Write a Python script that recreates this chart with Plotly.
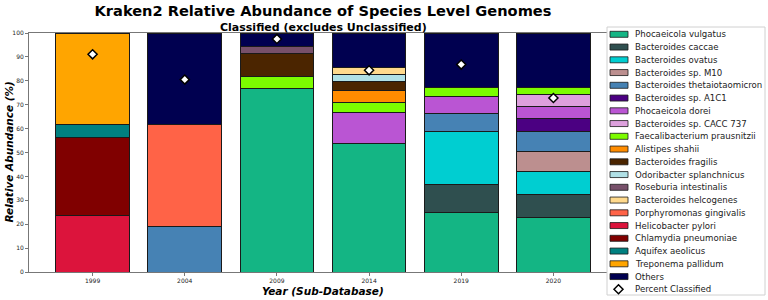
import plotly.graph_objects as go

years = ["1999", "2004", "2009", "2014", "2019", "2020"]

species = [
    "Phocaeicola vulgatus", "Bacteroides caccae", "Bacteroides ovatus", "Bacteroides sp. M10",
    "Bacteroides thetaiotaomicron", "Bacteroides sp. A1C1", "Phocaeicola dorei",
    "Bacteroides sp. CACC 737", "Faecalibacterium prausnitzii", "Alistipes shahii",
    "Bacteroides fragilis", "Odoribacter splanchnicus", "Roseburia intestinalis",
    "Bacteroides helcogenes", "Porphyromonas gingivalis", "Helicobacter pylori",
    "Chlamydia pneumoniae", "Aquifex aeolicus", "Treponema pallidum", "Others",
]

colors = [
    "#14B584", "#2F4F4F", "#00CED1", "#BC8F8F", "#4682B4", "#4B0082", "#BA55D3",
    "#DDA0DD", "#7CFC00", "#FF8C00", "#4B2500", "#B0E0E6", "#77506A", "#FFD98C",
    "#FF6347", "#DC143C", "#800000", "#008080", "#FFA500", "#000050",
]

phocaeicola_vulgatus = [None, None, 76.7, 53.8, 24.7, 22.6]
bacteroides_caccae = [None, None, None, None, 12.1, 10.0]
bacteroides_ovatus = [None, None, None, None, 22.0, 9.3]
bacteroides_sp_m10 = [None, None, None, None, None, 8.6]
bacteroides_theta = [None, 19.2, None, None, 7.5, 8.4]
bacteroides_sp_a1c1 = [None, None, None, None, None, 5.4]
phocaeicola_dorei = [None, None, None, 13.1, 7.0, 4.9]
bacteroides_sp_cacc737 = [None, None, None, None, None, 5.0]
faecalibacterium = [None, None, 5.0, 4.2, 3.8, 2.8]
alistipes_shahii = [None, None, None, 5.0, None, None]
bacteroides_fragilis = [None, None, 9.6, 3.6, None, None]
odoribacter = [None, None, None, 3.1, None, None]
roseburia = [None, None, 3.0, None, None, None]
bacteroides_helcogenes = [None, None, None, 2.9, None, None]
porphyromonas = [None, 42.5, None, None, None, None]
helicobacter = [23.8, None, None, None, None, None]
chlamydia = [32.5, None, None, None, None, None]
aquifex = [5.4, None, None, None, None, None]
treponema = [38.3, None, None, None, None, None]
others = [None, 38.3, 5.7, 14.3, 22.9, 23.0]

series = [
    phocaeicola_vulgatus, bacteroides_caccae, bacteroides_ovatus, bacteroides_sp_m10,
    bacteroides_theta, bacteroides_sp_a1c1, phocaeicola_dorei, bacteroides_sp_cacc737,
    faecalibacterium, alistipes_shahii, bacteroides_fragilis, odoribacter, roseburia,
    bacteroides_helcogenes, porphyromonas, helicobacter, chlamydia, aquifex, treponema, others,
]

percent_classified = [91.1, 80.5, 97.5, 84.4, 86.8, 72.8]

y_ticks = list(range(0, 101, 10))

W, H = 768, 300
L, R, T, B = 29, 617, 33, 272  # plot area in pixels


def px_x(p):
    return (p - L) / (R - L)


def px_y(p):
    return (B - p) / (B - T)


fig = go.Figure()
for name, vals, col in zip(species, series, colors):
    fig.add_trace(go.Bar(
        x=years, y=vals, name=name, marker=dict(color=col, line=dict(color="#1a1a1a", width=1)),
        width=0.8, showlegend=False,
    ))

fig.add_trace(go.Scatter(
    x=years, y=percent_classified, mode="markers", name="Percent Classified",
    marker=dict(symbol="diamond", size=7, color="white", line=dict(color="black", width=1.5)),
    showlegend=False,
))

shapes = []
annotations = []

LEG_FONT = dict(family="DejaVu Sans", size=8.6, color="#222")

# legend frame
shapes.append(dict(type="rect", xref="paper", yref="paper", x0=px_x(607), x1=px_x(765),
                   y0=px_y(295), y1=px_y(27), fillcolor="white",
                   line=dict(color="#d0d0d0", width=1), layer="above"))

item_y0 = 34.3
item_dy = 12.75
for i, (name, col) in enumerate(zip(species, colors)):
    yc = item_y0 + i * item_dy
    shapes.append(dict(type="rect", xref="paper", yref="paper", x0=px_x(610), x1=px_x(628),
                       y0=px_y(yc + 3.0), y1=px_y(yc - 3.0), fillcolor=col,
                       line=dict(color="#1a1a1a", width=0.8), layer="above"))
    annotations.append(dict(text=name, xref="paper", yref="paper", x=px_x(633), y=px_y(yc),
                            xanchor="left", yanchor="middle", showarrow=False, font=LEG_FONT))

# percent classified legend entry
yc = item_y0 + len(species) * item_dy
cx, r = 618.5, 4.5
path = "M {} {} L {} {} L {} {} L {} {} Z".format(
    px_x(cx - r), px_y(yc), px_x(cx), px_y(yc - r), px_x(cx + r), px_y(yc), px_x(cx), px_y(yc + r))
shapes.append(dict(type="path", xref="paper", yref="paper", path=path, fillcolor="white",
                   line=dict(color="black", width=1.5), layer="above"))
annotations.append(dict(text="Percent Classified", xref="paper", yref="paper", x=px_x(633), y=px_y(yc),
                        xanchor="left", yanchor="middle", showarrow=False, font=LEG_FONT))

# subtitle and axis titles
annotations.append(dict(text="<b>Classified (excludes Unclassified)</b>", xref="paper", yref="paper",
                        x=0.5, y=px_y(27.5), xanchor="center", yanchor="middle", showarrow=False,
                        font=dict(family="DejaVu Sans", size=11, color="black")))
annotations.append(dict(text="<b><i>Relative Abundance (%)</i></b>", xref="paper", yref="paper",
                        x=px_x(8), y=0.5, xanchor="center", yanchor="middle", textangle=-90,
                        showarrow=False, font=dict(family="DejaVu Sans", size=10.5, color="black")))
annotations.append(dict(text="<b><i>Year (Sub-Database)</i></b>", xref="paper", yref="paper",
                        x=0.5, y=px_y(290.5), xanchor="center", yanchor="middle",
                        showarrow=False, font=dict(family="DejaVu Sans", size=10.5, color="black")))

fig.update_layout(
    width=W, height=H,
    margin=dict(l=L, r=W - R, t=T, b=H - B, pad=0),
    barmode="stack",
    plot_bgcolor="white", paper_bgcolor="white",
    title=dict(text="<b>Kraken2 Relative Abundance of Species Level Genomes</b>",
               x=(L + R) / 2 / W, xref="container", xanchor="center",
               y=1 - 10.5 / H, yref="container", yanchor="middle",
               font=dict(family="DejaVu Sans", size=14.6, color="black")),
    shapes=shapes,
    annotations=annotations,
    showlegend=False,
    xaxis=dict(type="category", range=[-0.69, 5.69], showline=True, linecolor="#777", linewidth=1,
               mirror=True, ticks="outside", ticklen=3, tickcolor="#777", showgrid=False,
               tickfont=dict(family="DejaVu Sans", size=6, color="#222"), zeroline=False),
    yaxis=dict(range=[0, 100], tickvals=y_ticks, showline=True, linecolor="#777", linewidth=1,
               mirror=True, ticks="outside", ticklen=3, tickcolor="#777", showgrid=False,
               tickfont=dict(family="DejaVu Sans", size=6, color="#222"), zeroline=False),
)

fig.write_html("out.html", config={"displayModeBar": False},
               post_script="document.body.style.margin='0';")
